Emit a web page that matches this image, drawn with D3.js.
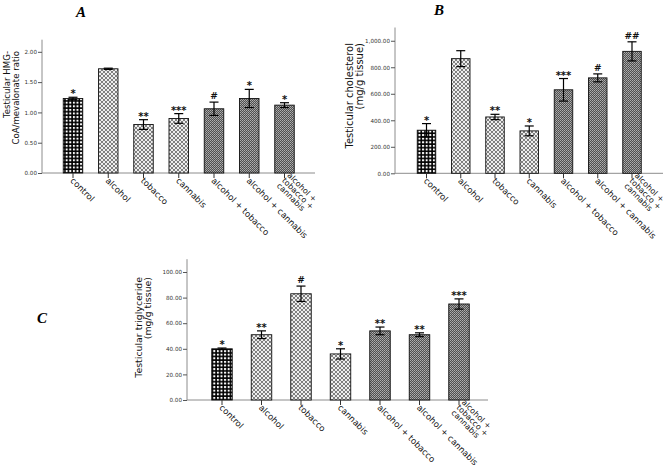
<!DOCTYPE html>
<html><head><meta charset="utf-8">
<script src="https://cdn.jsdelivr.net/npm/d3@7/dist/d3.min.js"></script>
<style>body{margin:0;background:#fff}svg{display:block}</style>
</head><body>
<svg id="c" width="666" height="472"></svg>
<script>
const categories = ["control","alcohol","tobacco","cannabis","alcohol + tobacco","alcohol + cannabis","alcohol +|tobacco +|cannabis"];
const groupType = ["control","single","single","single","combo","combo","combo"];

const hmgValues = [1.23,1.72,0.80,0.90,1.06,1.23,1.12];
const hmgErrors = [0.02,0.01,0.08,0.08,0.11,0.15,0.04];
const hmgMarks  = ["*","","**","***","#","*","*"];
const hmgTicks  = [0,0.5,1.0,1.5,2.0];

const cholValues = [325,865,425,320,630,720,920];
const cholErrors = [50,60,20,37,85,30,72];
const cholMarks  = ["*","","**","*","***","#","##"];
const cholTicks  = [0,200,400,600,800,1000];

const trigValues = [40,51,83,36,54,51,75];
const trigErrors = [0.6,3,6,4,3,1.5,4];
const trigMarks  = ["*","**","#","*","**","**","***"];
const trigTicks  = [0,20,40,60,80,100];

const svg = d3.select("#c");
const defs = svg.append("defs");

// patterns
let p = defs.append("pattern").attr("id","pat-control").attr("patternUnits","userSpaceOnUse").attr("width",3.6).attr("height",3.6);
p.append("rect").attr("width",3.6).attr("height",3.6).attr("fill","#000");
p.append("rect").attr("x",0.9).attr("y",0.9).attr("width",2).attr("height",2).attr("fill","#fff");

p = defs.append("pattern").attr("id","pat-single").attr("patternUnits","userSpaceOnUse").attr("width",4).attr("height",4);
p.append("rect").attr("width",4).attr("height",4).attr("fill","#e2e2e2");
[[0,0],[4,0],[0,4],[4,4],[2,2]].forEach(([x,y])=>p.append("circle").attr("cx",x).attr("cy",y).attr("r",1.05).attr("fill","#666"));
[[2,0],[0,2],[4,2],[2,4]].forEach(([x,y])=>p.append("circle").attr("cx",x).attr("cy",y).attr("r",0.8).attr("fill","#fff"));

p = defs.append("pattern").attr("id","pat-combo").attr("patternUnits","userSpaceOnUse").attr("width",2).attr("height",2);
p.append("rect").attr("width",2).attr("height",2).attr("fill","#505050");
p.append("rect").attr("width",1).attr("height",1).attr("fill","#b0b0b0");
p.append("rect").attr("x",1).attr("y",1).attr("width",1).attr("height",1).attr("fill","#9a9a9a");

function panel(cfg){
  const g = svg.append("g");
  const y = d3.scaleLinear().domain(cfg.domain).range([cfg.y0, cfg.yTop]);
  const x = d3.scalePoint().domain(categories).range([cfg.c0, cfg.c1]);
  const bw = cfg.bw;
  const axisColor = "#8c8c8c";

  // y axis
  const ya = d3.axisLeft(y).tickValues(cfg.ticks).tickSize(4).tickFormat(d3.format(cfg.fmt));
  const yg = g.append("g").attr("transform",`translate(${cfg.ax},0)`).call(ya);
  yg.select(".domain").attr("stroke",axisColor).attr("d",`M-0,${cfg.y0}V${cfg.yTop}`);
  yg.selectAll(".tick line").attr("stroke","#555");
  yg.selectAll(".tick text").attr("font-family","DejaVu Sans, sans-serif").attr("font-size",5.6).attr("fill","#333").attr("x",-5);

  // x axis
  g.append("line").attr("x1",cfg.ax).attr("x2",cfg.xEnd).attr("y1",cfg.y0).attr("y2",cfg.y0).attr("stroke",axisColor);

  const data = categories.map((c,i)=>({c,v:cfg.values[i],e:cfg.errors[i],m:cfg.marks[i],t:groupType[i]}));

  g.selectAll("rect.bar").data(data).join("rect").attr("class","bar")
    .attr("x",d=>x(d.c)-bw/2).attr("width",bw)
    .attr("y",d=>y(d.v)).attr("height",d=>y(0)-y(d.v))
    .attr("fill",d=>`url(#pat-${d.t})`).attr("stroke","#111").attr("stroke-width",0.9);

  // error bars
  const eb = g.selectAll("g.err").data(data).join("g").attr("class","err");
  eb.append("line").attr("x1",d=>x(d.c)).attr("x2",d=>x(d.c)).attr("y1",d=>y(d.v+d.e)).attr("y2",d=>y(d.v-d.e)).attr("stroke","#000").attr("stroke-width",1.2);
  eb.append("line").attr("x1",d=>x(d.c)-4.5).attr("x2",d=>x(d.c)+4.5).attr("y1",d=>y(d.v+d.e)).attr("y2",d=>y(d.v+d.e)).attr("stroke","#000").attr("stroke-width",1.2);
  eb.append("line").attr("x1",d=>x(d.c)-4.5).attr("x2",d=>x(d.c)+4.5).attr("y1",d=>y(d.v-d.e)).attr("y2",d=>y(d.v-d.e)).attr("stroke","#000").attr("stroke-width",1.2);

  // significance marks
  g.selectAll("text.mark").data(data).join("text").attr("class","mark")
    .attr("x",d=>x(d.c)).attr("y",d=>y(d.v+d.e)-(d.m.startsWith("#")?3:0))
    .attr("text-anchor","middle").attr("font-family","DejaVu Sans, sans-serif")
    .attr("font-size",d=>d.m.startsWith("#")?9:10).attr("font-weight","bold").attr("fill","#111")
    .text(d=>d.m);

  // x ticks and labels
  g.selectAll("line.xt").data(data).join("line").attr("class","xt")
    .attr("x1",d=>x(d.c)).attr("x2",d=>x(d.c)).attr("y1",cfg.y0).attr("y2",cfg.y0+5).attr("stroke","#333");
  const lab = g.selectAll("text.xl").data(data).join("text").attr("class","xl")
    .attr("transform",d=>`translate(${x(d.c)-1},${cfg.y0+6}) rotate(45)`)
    .attr("font-family","DejaVu Sans, sans-serif").attr("fill","#111")
    .attr("font-size",d=>d.c.includes("|")?8:8.6);
  lab.each(function(d){
    const lines = d.c.split("|");
    const t = d3.select(this);
    lines.forEach((ln,k)=>{
      t.append("tspan").attr("x",0)
       .attr("dy", k===0 ? ((lines.length>1? -(lines.length-1)/2*0.92 : 0)+0.35)+"em" : "0.92em")
       .text(ln);
    });
  });

  // y label
  const yl = g.append("text").attr("transform",`translate(${cfg.ylx},${cfg.yly}) rotate(-90)`)
    .attr("text-anchor","end").attr("font-family","DejaVu Sans, sans-serif").attr("font-size",cfg.ylfs).attr("fill","#111");
  cfg.ylabel.forEach((ln,k)=>yl.append("tspan").attr("x",0).attr("dy",k===0?0:"1.0em").text(ln));

  // panel letter
  g.append("text").attr("x",cfg.lx).attr("y",cfg.ly).attr("text-anchor","middle")
    .attr("font-family","Liberation Serif, serif").attr("font-style","italic").attr("font-weight","bold")
    .attr("font-size",15).text(cfg.letter);
}

panel({letter:"A",lx:81,ly:17,domain:[0,2.2],y0:173,yTop:39.7,ax:42,xEnd:315,c0:73,c1:284.5,bw:19.5,
  values:hmgValues,errors:hmgErrors,marks:hmgMarks,ticks:hmgTicks,fmt:".2f",
  ylabel:["Testicular HMG-","CoA/mevalonate ratio"],ylx:10,yly:51,ylfs:8.6});

panel({letter:"B",lx:439,ly:15,domain:[0,1100],y0:173.3,yTop:27.5,ax:395,xEnd:663,c0:426.5,c1:632,bw:18.5,
  values:cholValues,errors:cholErrors,marks:cholMarks,ticks:cholTicks,fmt:",.2f",
  ylabel:["Testicular cholesterol","(mg/g tissue)"],ylx:353,yly:43,ylfs:10});

panel({letter:"C",lx:42,ly:323,domain:[0,110],y0:400,yTop:259.2,ax:187,xEnd:488,c0:222,c1:459,bw:20.5,
  values:trigValues,errors:trigErrors,marks:trigMarks,ticks:trigTicks,fmt:".2f",
  ylabel:["Testicular triglyceride","(mg/g tissue)"],ylx:142,yly:277,ylfs:9.4});
</script>
</body></html>
